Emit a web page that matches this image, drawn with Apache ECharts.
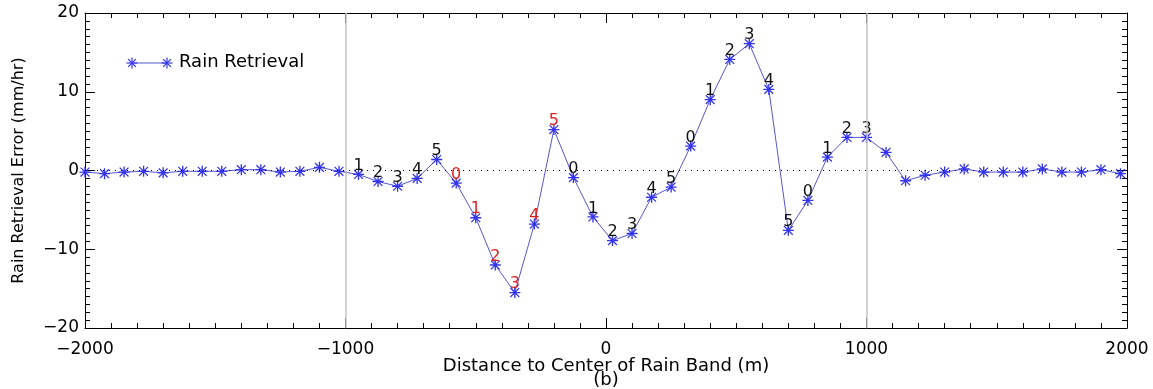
<!DOCTYPE html>
<html>
<head>
<meta charset="utf-8">
<script src="https://cdn.jsdelivr.net/npm/echarts@6/dist/echarts.min.js"></script>
<style>
  html, body { margin: 0; padding: 0; background: #fff; }
  #main { width: 1153px; height: 389px; }
</style>
</head>
<body>
<div id="main"></div>
<script>
// distance to rain band centre (m)
var distance = [-2000, -1925, -1850, -1775, -1700, -1625, -1550, -1475, -1400, -1325,
    -1250, -1175, -1100, -1025, -950, -875, -800, -725, -650, -575,
    -500, -425, -350, -275, -200, -125, -50, 25, 100, 175,
    250, 325, 400, 475, 550, 625, 700, 775, 850, 925,
    1000, 1075, 1150, 1225, 1300, 1375, 1450, 1525, 1600, 1675,
    1750, 1825, 1900, 1975];
// rain retrieval error (mm/hr)
var retrievalError = [-0.2, -0.4, -0.2, -0.1, -0.3, -0.1, -0.1, -0.1, 0.1, 0.1,
    -0.2, -0.1, 0.4, -0.1, -0.5, -1.4, -2.0, -1.0, 1.4, -1.6,
    -6.0, -12.0, -15.5, -6.8, 5.2, -0.9, -5.9, -8.9, -8.0, -3.4,
    -2.1, 3.1, 9.0, 14.1, 16.1, 10.3, -7.6, -3.8, 1.7, 4.2,
    4.2, 2.3, -1.3, -0.6, -0.2, 0.2, -0.2, -0.2, -0.2, 0.2,
    -0.2, -0.2, 0.1, -0.4];
// numbers written next to the points
var pointLabels = ['', '', '', '', '', '', '', '', '', '',
    '', '', '', '', '1', '2', '3', '4', '5', '0',
    '1', '2', '3', '4', '5', '0', '1', '2', '3', '4',
    '5', '0', '1', '2', '3', '4', '5', '0', '1', '2',
    '3', '', '', '', '', '', '', '', '', '',
    '', '', '', ''];
// points whose number is printed in red
var redPoints = [19, 20, 21, 22, 23, 24];
var xTicks = [-2000, -1000, 0, 1000, 2000];
var bandEdges = [-1000, 1000];

var star = 'path://M0 4.4L10 4.4L10 5.6L0 5.6Z M4.4 0L5.6 0L5.6 10L4.4 10Z ' +
    'M1.4 0.6L9.4 8.6L8.6 9.4L0.6 1.4Z M8.6 0.6L9.4 1.4L1.4 9.4L0.6 8.6Z';

var font = 'DejaVu Sans';
var lineColor = '#5656d2';
var starColor = '#3434ec';

var seriesData = distance.map(function (d, i) {
    return {
        value: [d, retrievalError[i]],
        label: {
            show: pointLabels[i] !== '',
            formatter: pointLabels[i],
            color: redPoints.indexOf(i) >= 0 ? '#e02020' : '#111'
        }
    };
});

// asterisk made of four strokes, for the legend
function legendStar(cx, cy, r) {
    var d = r * 0.7071;
    var segs = [[-r, 0, r, 0], [0, -r, 0, r], [-d, -d, d, d], [-d, d, d, -d]];
    return {
        type: 'group',
        children: segs.map(function (s) {
            return {
                type: 'line',
                shape: { x1: cx + s[0], y1: cy + s[1], x2: cx + s[2], y2: cy + s[3] },
                style: { stroke: starColor, lineWidth: 1.2 }
            };
        })
    };
}

var tickStyle = {
    axisLine: { show: true, onZero: false, lineStyle: { color: '#000', width: 1 } },
    axisTick: { show: true, inside: true, length: 10, lineStyle: { color: '#000' } },
    minorTick: { show: true, splitNumber: 10, length: 5, lineStyle: { color: '#000' } },
    splitLine: { show: false }
};

function axis(extra) {
    return Object.assign({}, JSON.parse(JSON.stringify(tickStyle)), extra);
}

var myChart = echarts.init(document.getElementById('main'));
var option = {
    animation: false,
    backgroundColor: '#fff',
    grid: { left: 85, right: 26, top: 13, bottom: 61, containLabel: false, outerBoundsMode: 'none' },
    xAxis: [
        axis({
            type: 'value', min: -2000, max: 2000, interval: 1000, position: 'bottom',
            axisLabel: {
                margin: 13, color: '#000', fontFamily: font, fontSize: 17,
                formatter: function (v) { return xTicks.indexOf(v) >= 0 ? String(v).replace('-', '\u2212') : ''; }
            }
        }),
        axis({
            type: 'value', min: -2000, max: 2000, interval: 1000, position: 'top',
            axisLabel: { show: false }
        })
    ],
    yAxis: [
        axis({
            type: 'value', min: -20, max: 20, interval: 10, position: 'left',
            axisLabel: {
                margin: 6, color: '#000', fontFamily: font, fontSize: 17,
                formatter: function (v) { return String(v).replace('-', '\u2212'); }
            },
            name: 'Rain Retrieval Error (mm/hr)',
            nameLocation: 'middle', nameGap: 58, nameRotate: 90,
            nameTextStyle: { color: '#000', fontFamily: font, fontSize: 16 }
        }),
        axis({
            type: 'value', min: -20, max: 20, interval: 10, position: 'right',
            axisLabel: { show: false }
        })
    ],
    graphic: [
        {
            type: 'line', shape: { x1: 132, y1: 63, x2: 167, y2: 63 },
            style: { stroke: lineColor, lineWidth: 1 }
        },
        legendStar(132, 63, 5.5),
        legendStar(167, 63, 5.5),
        {
            type: 'text', left: 179, top: 53,
            style: { text: 'Rain Retrieval', fill: '#000', font: '18px "DejaVu Sans"' }
        },
        // x axis title and panel tag, centred under the plot
        {
            type: 'text', x: 606, y: 359,
            style: {
                text: 'Distance to Center of Rain Band (m)\n(b)',
                fill: '#000', font: '18px "DejaVu Sans"',
                align: 'center', verticalAlign: 'top', lineHeight: 14
            }
        }
    ],
    series: [
        {
            name: 'Rain Retrieval',
            type: 'line',
            data: seriesData,
            symbol: star,
            symbolSize: 11,
            itemStyle: { color: starColor },
            lineStyle: { color: lineColor, width: 1 },
            label: {
                position: 'top', distance: -5,
                fontFamily: font, fontSize: 16
            },
            markLine: {
                silent: true,
                symbol: 'none',
                label: { show: false },
                data: [
                    { yAxis: 0, lineStyle: { color: '#000', type: [1, 5], width: 1 } },
                    { xAxis: bandEdges[0], lineStyle: { color: '#c4c4c4', type: 'solid', width: 1.5 } },
                    { xAxis: bandEdges[1], lineStyle: { color: '#c4c4c4', type: 'solid', width: 1.5 } }
                ]
            },
            z: 3
        }
    ]
};
myChart.setOption(option);
</script>
</body>
</html>
